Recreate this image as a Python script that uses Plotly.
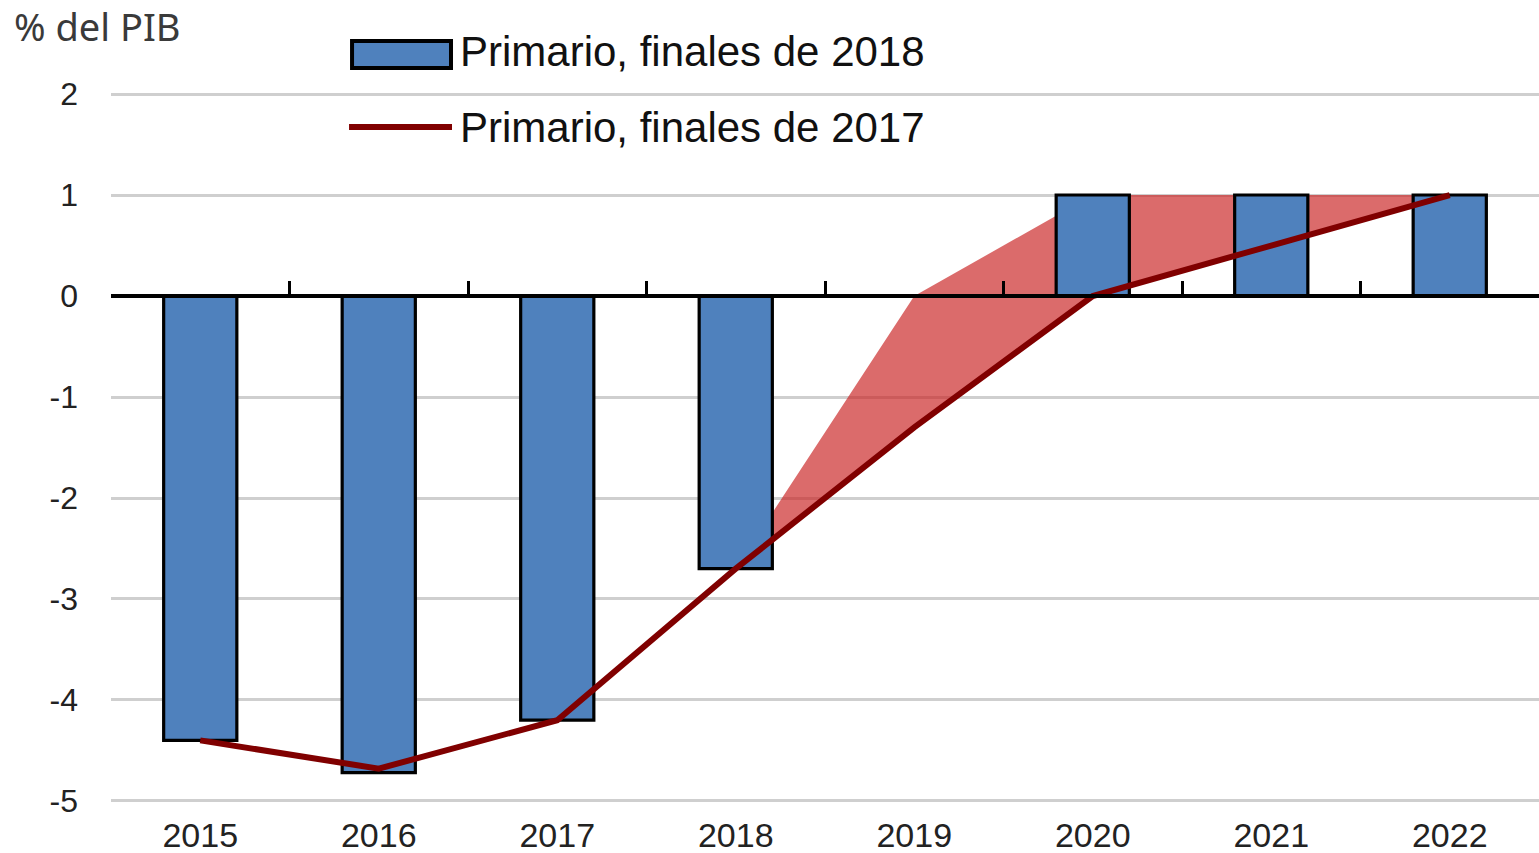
import plotly.graph_objects as go

# ---- data ----
years = ["2015", "2016", "2017", "2018", "2019", "2020", "2021", "2022"]
primario_2018 = [-4.4, -4.72, -4.2, -2.7, 0.0, 1.0, 1.0, 1.0]
primario_2017 = [-4.4, -4.68, -4.2, -2.7, -1.3, 0.0, 0.5, 1.0]
y_tick_vals = [-5, -4, -3, -2, -1, 0, 1, 2]
y_tick_text = ["-5", "-4", "-3", "-2", "-1", "0", "1", "2"]
y_range = [-5.03, 2.03]
unit_label = "% del PIB"
name_2018 = "Primario, finales de 2018"
name_2017 = "Primario, finales de 2017"

# shaded gap between the two vintages (2018 onwards)
fill_years = years[3:]
fill_upper = primario_2018[3:]
fill_lower = primario_2017[3:]

BLUE = "#4F81BD"
DARKRED = "#800000"
REG = "Liberation Sans, Arial, sans-serif"

fig = go.Figure()

# fill on the base subplot (below bars)
fig.add_trace(go.Scatter(x=fill_years, y=fill_lower, mode="lines",
                         line=dict(width=0), showlegend=False, hoverinfo="skip"))
fig.add_trace(go.Scatter(x=fill_years, y=fill_upper, mode="lines",
                         line=dict(width=0), fill="tonexty",
                         fillcolor="rgba(200,30,30,0.66)",
                         showlegend=False, hoverinfo="skip"))

# bars and line on the overlay subplot
fig.add_trace(go.Bar(x=years, y=primario_2018, name=name_2018,
                     marker=dict(color=BLUE, line=dict(color="black", width=3.2)),
                     xaxis="x2", yaxis="y2", showlegend=False))
fig.add_trace(go.Scatter(x=years, y=primario_2017, name=name_2017, mode="lines",
                         line=dict(color=DARKRED, width=6),
                         xaxis="x2", yaxis="y2", showlegend=False))

zero_pos = (0 - y_range[0]) / (y_range[1] - y_range[0])

fig.update_layout(
    width=1539, height=853,
    margin=dict(l=111, r=0, t=91, b=49),
    paper_bgcolor="white", plot_bgcolor="white",
    bargap=0.59,
    xaxis=dict(type="category", categoryorder="array", categoryarray=years,
               range=[-0.5, len(years) - 0.5], showline=False, showgrid=False,
               ticks="", zeroline=False,
               tickfont=dict(family=REG, size=34, color="#222222"),
               ticklabelstandoff=8),
    yaxis=dict(range=y_range, tickvals=y_tick_vals, ticktext=y_tick_text,
               showgrid=True, gridcolor="#CFCFCF", gridwidth=3,
               zeroline=False, showline=False, ticks="",
               tickfont=dict(family=REG, size=32, color="#222222"),
               ticklabelstandoff=32),
    xaxis2=dict(type="category", categoryorder="array", categoryarray=years,
                range=[-0.5, len(years) - 0.5], overlaying="x", anchor="free",
                position=zero_pos, showline=True, linecolor="black", linewidth=3.5,
                ticks="inside", tickson="boundaries", ticklen=13, tickwidth=3,
                tickcolor="black", showticklabels=False, showgrid=False,
                zeroline=False),
    yaxis2=dict(range=y_range, overlaying="y", visible=False),
    showlegend=False,
)

# unit label
fig.add_annotation(text=unit_label, xref="paper", yref="paper",
                   x=-0.069, y=1.091, xanchor="left", yanchor="middle",
                   showarrow=False,
                   font=dict(family="Noto Sans, sans-serif", size=38, color="#3a3a3a"))

# hand-drawn legend
fig.add_shape(type="rect", xref="paper", yref="paper",
              x0=0.1688, x1=0.2381, y0=1.0323, y1=1.0701,
              fillcolor=BLUE, line=dict(color="black", width=4))
fig.add_shape(type="line", xref="paper", yref="paper",
              x0=0.1667, x1=0.2388, y0=0.9495, y1=0.9495,
              line=dict(color=DARKRED, width=6))
fig.add_annotation(text=name_2018, xref="paper", yref="paper",
                   x=0.2430, y=1.0547, xanchor="left", yanchor="middle",
                   showarrow=False, font=dict(family=REG, size=42, color="#111111"))
fig.add_annotation(text=name_2017, xref="paper", yref="paper",
                   x=0.2430, y=0.9495, xanchor="left", yanchor="middle",
                   showarrow=False, font=dict(family=REG, size=42, color="#111111"))

fig.write_html("out.html",
               config={"displayModeBar": False},
               post_script="document.body.style.margin='0';"
                           "document.documentElement.style.overflow='hidden';")
